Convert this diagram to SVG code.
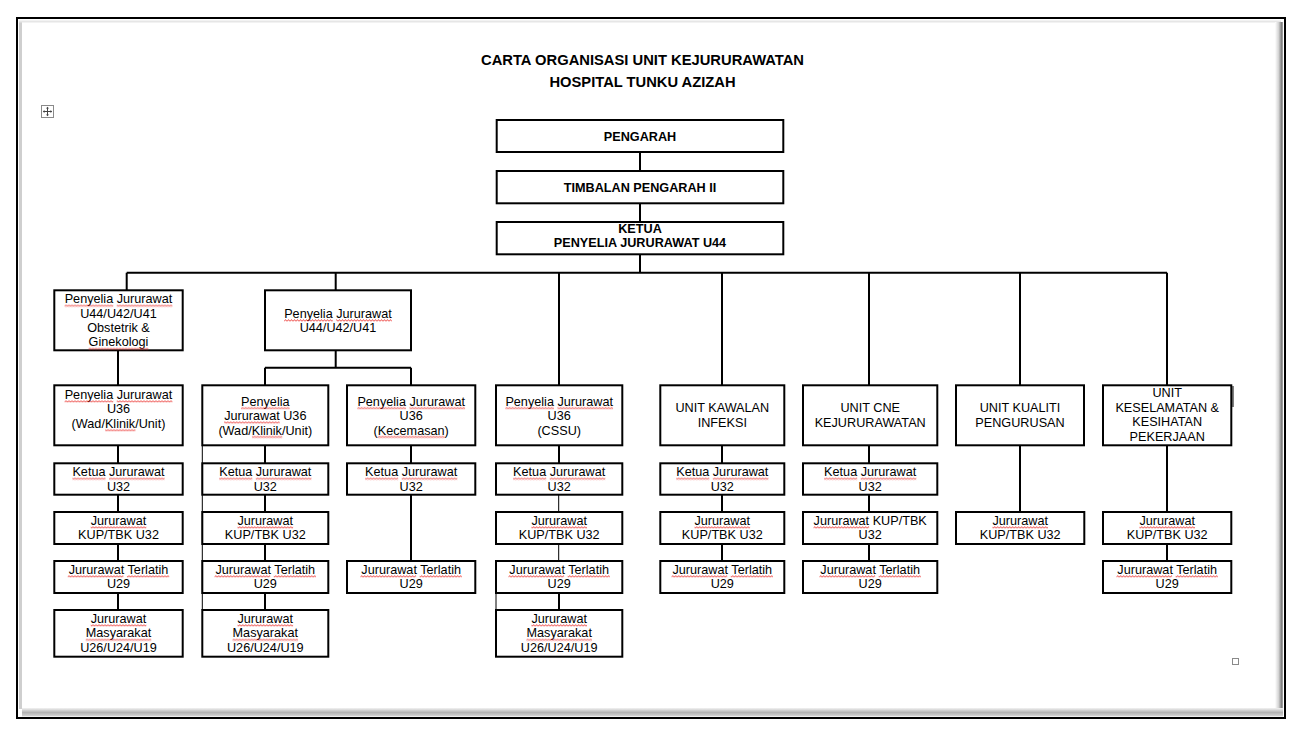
<svg xmlns="http://www.w3.org/2000/svg" xmlns:xlink="http://www.w3.org/1999/xlink" width="1305" height="739" viewBox="0 0 1305 739">
<style>
.box{fill:#fff;stroke:#000;stroke-width:2}
.t{font-family:"Liberation Sans",Arial,sans-serif;font-size:12.67px;text-anchor:middle;fill:#000}
.tb{font-family:"Liberation Sans",Arial,sans-serif;font-size:12.67px;font-weight:bold;text-anchor:middle;fill:#000}
.title{font-family:"Liberation Sans",Arial,sans-serif;font-size:14.5px;font-weight:bold;text-anchor:middle;fill:#000}
.c{fill:none;stroke:#000;stroke-width:2}
.thin{fill:none;stroke:#000;stroke-width:1}
.sq{fill:url(#squig)}
</style>
<defs>
<pattern id="squig" patternUnits="userSpaceOnUse" x="0" y="1" width="3" height="3">
<path d="M0,2.5 L1.5,0.6 L3,2.5" fill="none" stroke="#e8201c" stroke-width="0.8"/>
</pattern>
<linearGradient id="gR" x1="0" y1="0" x2="1" y2="0">
<stop offset="0" stop-color="#ffffff"/><stop offset="0.45" stop-color="#d4d4d4"/><stop offset="0.85" stop-color="#7a7a7a"/><stop offset="1" stop-color="#b8b8b8"/>
</linearGradient>
<linearGradient id="gB" x1="0" y1="0" x2="0" y2="1">
<stop offset="0" stop-color="#f2f2f2"/><stop offset="0.5" stop-color="#b4b4b4"/><stop offset="0.85" stop-color="#d0d0d0"/><stop offset="1" stop-color="#ffffff"/>
</linearGradient>
<g id="sq-pj"><rect class="sq" x="-53.85" y="1" width="48.6" height="3"/><rect class="sq" x="-1.75" y="1" width="55.6" height="3"/></g>
<g id="sq-p"><rect class="sq" x="-24.3" y="1" width="48.6" height="3"/></g>
<g id="sq-ju36"><rect class="sq" x="-41.2" y="1" width="55.6" height="3"/></g>
<g id="sq-klinik"><rect class="sq" x="-13.35" y="1" width="30.3" height="3"/></g>
<g id="sq-kec"><rect class="sq" x="-33.45" y="1" width="66.9" height="3"/></g>
<g id="sq-gin"><rect class="sq" x="-29.95" y="1" width="59.9" height="3"/></g>
<g id="sq-kj"><rect class="sq" x="-46.1" y="1" width="33.1" height="3"/><rect class="sq" x="-9.5" y="1" width="55.6" height="3"/></g>
<g id="sq-j"><rect class="sq" x="-27.8" y="1" width="55.6" height="3"/></g>
<g id="sq-jt"><rect class="sq" x="-50.7" y="1" width="55.6" height="3"/><rect class="sq" x="8.45" y="1" width="42.25" height="3"/></g>
<g id="sq-m"><rect class="sq" x="-32.75" y="1" width="65.5" height="3"/></g>
<g id="sq-jk"><rect class="sq" x="-56.65" y="1" width="55.6" height="3"/></g>
</defs>

<rect x="0" y="0" width="1305" height="739" fill="#fff"/>

<g id="frame">
<rect x="19" y="21" width="3" height="688" fill="#cfcfcf"/>
<rect x="19" y="20.5" width="1262" height="2" fill="#e6e6e6"/>
<rect x="1275" y="22" width="8" height="694" fill="url(#gR)"/>
<rect x="22" y="708" width="1261" height="9" fill="url(#gB)"/>
<rect x="17" y="18" width="1268" height="700" fill="none" stroke="#000" stroke-width="2"/>
</g>

<g id="move-handle">
<rect x="41.5" y="105.5" width="12" height="12" fill="#fff" stroke="#8a8a8a" stroke-width="1"/>
<path d="M43.5,111.5 H51.5 M47.5,107.5 V115.5" stroke="#444" stroke-width="1" fill="none"/>
<path d="M47.5,106.8 L46,108.5 H49 Z M47.5,116.2 L46,114.5 H49 Z M42.8,111.5 L44.5,110 V113 Z M52.2,111.5 L50.5,110 V113 Z" fill="#444"/>
</g>
<rect id="resize-handle" x="1232.5" y="658.5" width="6" height="6" fill="#fff" stroke="#8a8a8a" stroke-width="1"/>
<line id="cursor" x1="1233" y1="386" x2="1233" y2="407" stroke="#000" stroke-width="1"/>

<g id="title">
<text class="title" x="642.5" y="65" textLength="323" lengthAdjust="spacingAndGlyphs">CARTA ORGANISASI UNIT KEJURURAWATAN</text>
<text class="title" x="642.5" y="86.7" textLength="186" lengthAdjust="spacingAndGlyphs">HOSPITAL TUNKU AZIZAH</text>
</g>

<g id="connectors">
<path class="c" d="M640,152 V171 M640,203.3 V222 M640,254.3 V272.7 M126.7,272.7 H1167 M126.7,272.7 V290.3 M335.7,272.7 V290.3 M559,272.7 V385.3 M722,272.7 V385.3 M869,272.7 V385.3 M1020,272.7 V385.3 M1167,272.7 V385.3"/>
<path class="c" d="M118,350.3 V385.3 M335.7,350.3 V367.7 M265,367.7 H411 M265,367.7 V385.3 M411,367.7 V385.3"/>
<path class="c" d="M118,445.3 V463.3 M118,494.7 V512 M118,544 V561 M118,593 V610"/>
<path class="c" d="M265,445.3 V463.3 M265,494.7 V512 M265,544 V561 M265,593 V610"/>
<path class="c" d="M411,445.3 V463.3 M411,494.7 V561"/>
<path class="c" d="M559,445.3 V463.3 M559,593 V610"/>
<path class="thin" d="M558.7,494.7 V512 M558.7,544 V561"/>
<path class="c" d="M722,445.3 V463.3 M722,494.7 V512 M722,544 V561"/>
<path class="c" d="M869,445.3 V463.3 M869,494.7 V512 M869,544 V561"/>
<path class="c" d="M1020,445.3 V512"/>
<path class="c" d="M1167,445.3 V512 M1167,544 V561"/>
<path class="thin" d="M202.3,445.3 V610 M496,593 V610"/>
</g>

<g id="n-pengarah"><rect class="box" x="496.7" y="120" width="286.6" height="32"/><text class="tb" x="640" y="141">PENGARAH</text></g>
<g id="n-timbalan"><rect class="box" x="496.7" y="171" width="286.6" height="32.3"/><text class="tb" x="640" y="191.7">TIMBALAN PENGARAH II</text></g>
<g id="n-ketua"><rect class="box" x="496.7" y="222" width="286.6" height="32.3"/><text class="tb" x="640" y="233.3">KETUA</text><text class="tb" x="640" y="247.3">PENYELIA JURURAWAT U44</text></g>

<g id="n-pj-obstetrik"><rect class="box" x="54.3" y="290.3" width="128.4" height="60"/>
<text class="t" x="118.5" y="303.3">Penyelia Jururawat</text><text class="t" x="118.5" y="317.7">U44/U42/U41</text><text class="t" x="118.5" y="332">Obstetrik &amp;</text><text class="t" x="118.5" y="346.4">Ginekologi</text>
<use xlink:href="#sq-pj" x="118.5" y="303.3"/><use xlink:href="#sq-gin" x="118.5" y="346.4"/></g>
<g id="n-pj-u44"><rect class="box" x="265" y="290.3" width="146" height="60"/>
<text class="t" x="338" y="318">Penyelia Jururawat</text><text class="t" x="338" y="332.3">U44/U42/U41</text>
<use xlink:href="#sq-pj" x="338" y="318"/></g>

<g id="n-c1-u36"><rect class="box" x="54.3" y="385.3" width="128.4" height="60"/>
<text class="t" x="118.5" y="399">Penyelia Jururawat</text><text class="t" x="118.5" y="413.4">U36</text><text class="t" x="118.5" y="427.8">(Wad/Klinik/Unit)</text>
<use xlink:href="#sq-pj" x="118.5" y="399"/><use xlink:href="#sq-klinik" x="118.5" y="427.8"/></g>
<g id="n-c2-u36"><rect class="box" x="202.3" y="385.3" width="126" height="60"/>
<text class="t" x="265.3" y="405.7">Penyelia</text><text class="t" x="265.3" y="420.1">Jururawat U36</text><text class="t" x="265.3" y="434.5">(Wad/Klinik/Unit)</text>
<use xlink:href="#sq-p" x="265.3" y="405.7"/><use xlink:href="#sq-ju36" x="265.3" y="420.1"/><use xlink:href="#sq-klinik" x="265.3" y="434.5"/></g>
<g id="n-c3-u36"><rect class="box" x="347" y="385.3" width="128.3" height="60"/>
<text class="t" x="411.2" y="405.7">Penyelia Jururawat</text><text class="t" x="411.2" y="420.1">U36</text><text class="t" x="411.2" y="434.5">(Kecemasan)</text>
<use xlink:href="#sq-pj" x="411.2" y="405.7"/><use xlink:href="#sq-kec" x="411.2" y="434.5"/></g>
<g id="n-c4-u36"><rect class="box" x="496" y="385.3" width="126.3" height="60"/>
<text class="t" x="559.2" y="405.7">Penyelia Jururawat</text><text class="t" x="559.2" y="420.1">U36</text><text class="t" x="559.2" y="434.5">(CSSU)</text>
<use xlink:href="#sq-pj" x="559.2" y="405.7"/></g>
<g id="n-kawalan"><rect class="box" x="660.3" y="385.3" width="124" height="60"/>
<text class="t" x="722.3" y="412.3">UNIT KAWALAN</text><text class="t" x="722.3" y="426.7">INFEKSI</text></g>
<g id="n-cne"><rect class="box" x="803" y="385.3" width="134.3" height="60"/>
<text class="t" x="870.2" y="412.3">UNIT CNE</text><text class="t" x="870.2" y="426.7">KEJURURAWATAN</text></g>
<g id="n-kualiti"><rect class="box" x="956" y="385.3" width="128" height="60"/>
<text class="t" x="1020" y="412.3">UNIT KUALITI</text><text class="t" x="1020" y="426.7">PENGURUSAN</text></g>
<g id="n-keselamatan"><rect class="box" x="1103" y="385.3" width="128.3" height="60"/>
<text class="t" x="1167.2" y="397.3">UNIT</text><text class="t" x="1167.2" y="411.8">KESELAMATAN &amp;</text><text class="t" x="1167.2" y="426.3">KESIHATAN</text><text class="t" x="1167.2" y="440.8">PEKERJAAN</text></g>

<g id="n-c1-ketua"><rect class="box" x="54.3" y="463.3" width="128.4" height="31.4"/><text class="t" x="118.5" y="476.3">Ketua Jururawat</text><text class="t" x="118.5" y="490.6">U32</text><use xlink:href="#sq-kj" x="118.5" y="476.3"/></g>
<g id="n-c2-ketua"><rect class="box" x="202.3" y="463.3" width="126" height="31.4"/><text class="t" x="265.3" y="476.3">Ketua Jururawat</text><text class="t" x="265.3" y="490.6">U32</text><use xlink:href="#sq-kj" x="265.3" y="476.3"/></g>
<g id="n-c3-ketua"><rect class="box" x="347" y="463.3" width="128.3" height="31.4"/><text class="t" x="411.2" y="476.3">Ketua Jururawat</text><text class="t" x="411.2" y="490.6">U32</text><use xlink:href="#sq-kj" x="411.2" y="476.3"/></g>
<g id="n-c4-ketua"><rect class="box" x="496" y="463.3" width="126.3" height="31.4"/><text class="t" x="559.2" y="476.3">Ketua Jururawat</text><text class="t" x="559.2" y="490.6">U32</text><use xlink:href="#sq-kj" x="559.2" y="476.3"/></g>
<g id="n-c5-ketua"><rect class="box" x="660.3" y="463.3" width="124" height="31.4"/><text class="t" x="722.3" y="476.3">Ketua Jururawat</text><text class="t" x="722.3" y="490.6">U32</text><use xlink:href="#sq-kj" x="722.3" y="476.3"/></g>
<g id="n-c6-ketua"><rect class="box" x="803" y="463.3" width="134.3" height="31.4"/><text class="t" x="870.2" y="476.3">Ketua Jururawat</text><text class="t" x="870.2" y="490.6">U32</text><use xlink:href="#sq-kj" x="870.2" y="476.3"/></g>

<g id="n-c1-kup"><rect class="box" x="54.3" y="512" width="128.4" height="32"/><text class="t" x="118.5" y="525">Jururawat</text><text class="t" x="118.5" y="539.3">KUP/TBK U32</text><use xlink:href="#sq-j" x="118.5" y="525"/></g>
<g id="n-c2-kup"><rect class="box" x="202.3" y="512" width="126" height="32"/><text class="t" x="265.3" y="525">Jururawat</text><text class="t" x="265.3" y="539.3">KUP/TBK U32</text><use xlink:href="#sq-j" x="265.3" y="525"/></g>
<g id="n-c4-kup"><rect class="box" x="496" y="512" width="126.3" height="32"/><text class="t" x="559.2" y="525">Jururawat</text><text class="t" x="559.2" y="539.3">KUP/TBK U32</text><use xlink:href="#sq-j" x="559.2" y="525"/></g>
<g id="n-c5-kup"><rect class="box" x="660.3" y="512" width="124" height="32"/><text class="t" x="722.3" y="525">Jururawat</text><text class="t" x="722.3" y="539.3">KUP/TBK U32</text><use xlink:href="#sq-j" x="722.3" y="525"/></g>
<g id="n-c6-kup"><rect class="box" x="803" y="512" width="134.3" height="32"/><text class="t" x="870.2" y="525">Jururawat KUP/TBK</text><text class="t" x="870.2" y="539.3">U32</text><use xlink:href="#sq-jk" x="870.2" y="525"/></g>
<g id="n-c7-kup"><rect class="box" x="956" y="512" width="128.3" height="32"/><text class="t" x="1020.2" y="525">Jururawat</text><text class="t" x="1020.2" y="539.3">KUP/TBK U32</text><use xlink:href="#sq-j" x="1020.2" y="525"/></g>
<g id="n-c8-kup"><rect class="box" x="1103" y="512" width="128.3" height="32"/><text class="t" x="1167.2" y="525">Jururawat</text><text class="t" x="1167.2" y="539.3">KUP/TBK U32</text><use xlink:href="#sq-j" x="1167.2" y="525"/></g>

<g id="n-c1-terlatih"><rect class="box" x="54.3" y="561" width="128.4" height="32"/><text class="t" x="118.5" y="574">Jururawat Terlatih</text><text class="t" x="118.5" y="588.3">U29</text><use xlink:href="#sq-jt" x="118.5" y="574"/></g>
<g id="n-c2-terlatih"><rect class="box" x="202.3" y="561" width="126" height="32"/><text class="t" x="265.3" y="574">Jururawat Terlatih</text><text class="t" x="265.3" y="588.3">U29</text><use xlink:href="#sq-jt" x="265.3" y="574"/></g>
<g id="n-c3-terlatih"><rect class="box" x="347" y="561" width="128.3" height="32"/><text class="t" x="411.2" y="574">Jururawat Terlatih</text><text class="t" x="411.2" y="588.3">U29</text><use xlink:href="#sq-jt" x="411.2" y="574"/></g>
<g id="n-c4-terlatih"><rect class="box" x="496" y="561" width="126.3" height="32"/><text class="t" x="559.2" y="574">Jururawat Terlatih</text><text class="t" x="559.2" y="588.3">U29</text><use xlink:href="#sq-jt" x="559.2" y="574"/></g>
<g id="n-c5-terlatih"><rect class="box" x="660.3" y="561" width="124" height="32"/><text class="t" x="722.3" y="574">Jururawat Terlatih</text><text class="t" x="722.3" y="588.3">U29</text><use xlink:href="#sq-jt" x="722.3" y="574"/></g>
<g id="n-c6-terlatih"><rect class="box" x="803" y="561" width="134.3" height="32"/><text class="t" x="870.2" y="574">Jururawat Terlatih</text><text class="t" x="870.2" y="588.3">U29</text><use xlink:href="#sq-jt" x="870.2" y="574"/></g>
<g id="n-c8-terlatih"><rect class="box" x="1103" y="561" width="128.3" height="32"/><text class="t" x="1167.2" y="574">Jururawat Terlatih</text><text class="t" x="1167.2" y="588.3">U29</text><use xlink:href="#sq-jt" x="1167.2" y="574"/></g>

<g id="n-c1-masyarakat"><rect class="box" x="54.3" y="610" width="128.4" height="46.7"/><text class="t" x="118.5" y="623">Jururawat</text><text class="t" x="118.5" y="637.4">Masyarakat</text><text class="t" x="118.5" y="651.8">U26/U24/U19</text><use xlink:href="#sq-j" x="118.5" y="623"/><use xlink:href="#sq-m" x="118.5" y="637.4"/></g>
<g id="n-c2-masyarakat"><rect class="box" x="202.3" y="610" width="126" height="46.7"/><text class="t" x="265.3" y="623">Jururawat</text><text class="t" x="265.3" y="637.4">Masyarakat</text><text class="t" x="265.3" y="651.8">U26/U24/U19</text><use xlink:href="#sq-j" x="265.3" y="623"/><use xlink:href="#sq-m" x="265.3" y="637.4"/></g>
<g id="n-c4-masyarakat"><rect class="box" x="496" y="610" width="126.3" height="46.7"/><text class="t" x="559.2" y="623">Jururawat</text><text class="t" x="559.2" y="637.4">Masyarakat</text><text class="t" x="559.2" y="651.8">U26/U24/U19</text><use xlink:href="#sq-j" x="559.2" y="623"/><use xlink:href="#sq-m" x="559.2" y="637.4"/></g>
</svg>
